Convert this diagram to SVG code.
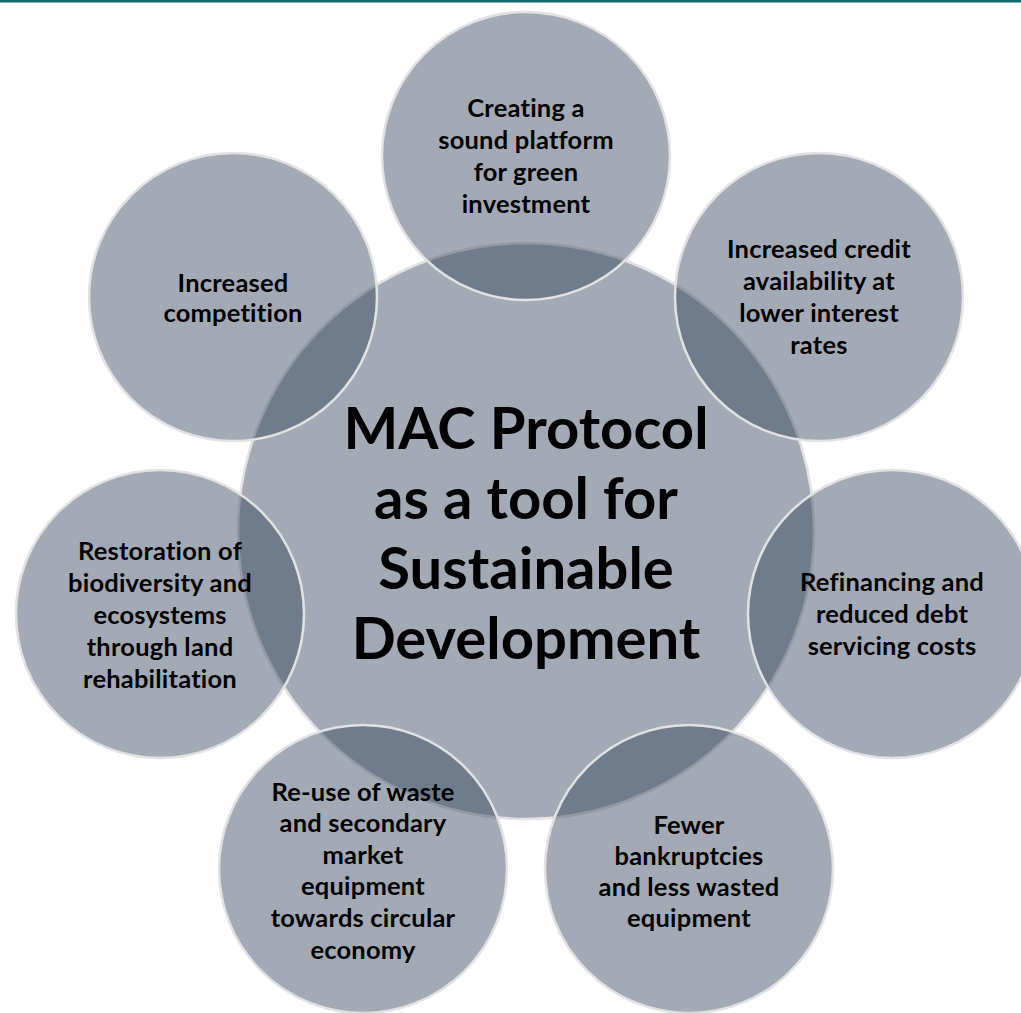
<svg xmlns="http://www.w3.org/2000/svg" width="1021" height="1013" viewBox="0 0 1021 1013">
<style>
.c{fill:rgb(50,66,90);fill-opacity:0.45;stroke:#e2e2e2;stroke-width:2.5}
.t{font-family:Lato,"Liberation Sans",sans-serif;font-weight:bold;font-size:25.5px;fill:#000;text-anchor:middle;letter-spacing:0.2px}
.big{font-family:Lato,"Liberation Sans",sans-serif;font-weight:bold;font-size:58px;fill:#000;text-anchor:middle}
</style>
<rect width="1021" height="1013" fill="#fff"/>
<rect x="0" y="0" width="1021" height="2.5" fill="#0d6b6b"/>
<g id="connectors"/>
<g id="center">
<circle class="c" cx="526" cy="531" r="288"/>
<text class="big" x="526"><tspan x="526" y="449">MAC Protocol</tspan><tspan x="526" y="519">as a tool for</tspan><tspan x="526" y="589">Sustainable</tspan><tspan x="526" y="659">Development</tspan></text>
</g>
<g id="n1">
<circle class="c" cx="526" cy="156" r="144"/>
<text class="t"><tspan x="526" y="117">Creating a</tspan><tspan x="526" y="149">sound platform</tspan><tspan x="526" y="181">for green</tspan><tspan x="526" y="213">investment</tspan></text>
</g>
<g id="n2">
<circle class="c" cx="819" cy="297" r="144"/>
<text class="t"><tspan x="819" y="258">Increased credit</tspan><tspan x="819" y="290">availability at</tspan><tspan x="819" y="322">lower interest</tspan><tspan x="819" y="354">rates</tspan></text>
</g>
<g id="n3">
<circle class="c" cx="892" cy="614" r="144"/>
<text class="t"><tspan x="892" y="591">Refinancing and</tspan><tspan x="892" y="623">reduced debt</tspan><tspan x="892" y="655">servicing costs</tspan></text>
</g>
<g id="n4">
<circle class="c" cx="689" cy="869" r="144"/>
<text class="t"><tspan x="689" y="834">Fewer</tspan><tspan x="689" y="865">bankruptcies</tspan><tspan x="689" y="896">and less wasted</tspan><tspan x="689" y="927">equipment</tspan></text>
</g>
<g id="n5">
<circle class="c" cx="363" cy="869" r="144"/>
<text class="t"><tspan x="363" y="801">Re-use of waste</tspan><tspan x="363" y="832">and secondary</tspan><tspan x="363" y="864">market</tspan><tspan x="363" y="895">equipment</tspan><tspan x="363" y="927">towards circular</tspan><tspan x="363" y="959">economy</tspan></text>
</g>
<g id="n6">
<circle class="c" cx="160" cy="614" r="144"/>
<text class="t"><tspan x="160" y="560">Restoration of</tspan><tspan x="160" y="592">biodiversity and</tspan><tspan x="160" y="624">ecosystems</tspan><tspan x="160" y="656">through land</tspan><tspan x="160" y="688">rehabilitation</tspan></text>
</g>
<g id="n7">
<circle class="c" cx="233" cy="297" r="144"/>
<text class="t"><tspan x="233" y="292">Increased</tspan><tspan x="233" y="322">competition</tspan></text>
</g>
</svg>
